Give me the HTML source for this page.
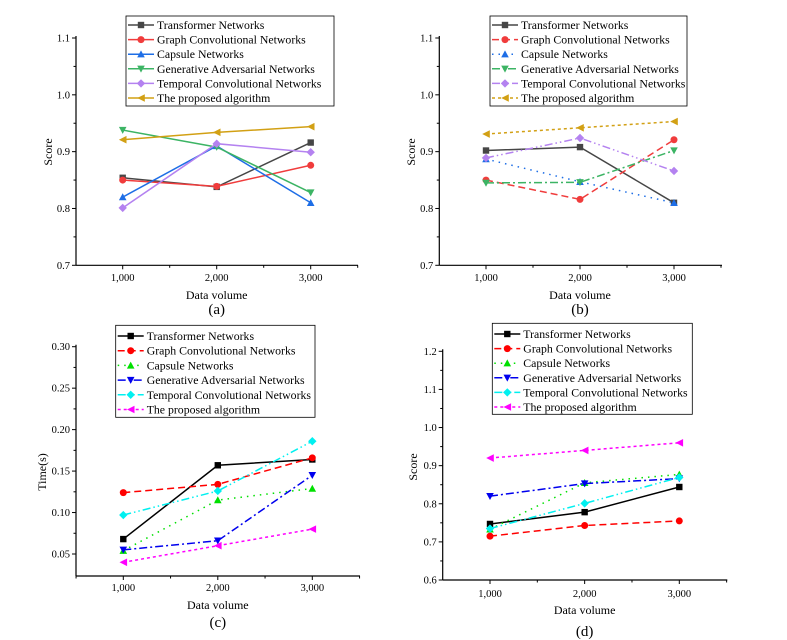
<!DOCTYPE html>
<html><head><meta charset="utf-8"><style>
body{margin:0;background:#fff;}
svg{display:block;font-family:"Liberation Serif",serif;}
</style></head><body>
<svg id="fig" width="787" height="640" viewBox="0 0 787 640"></svg>
<script>
const categories = [1000, 2000, 3000];
const xTickLabels = ["1,000", "2,000", "3,000"];
const seriesNames = ["Transformer Networks","Graph Convolutional Networks","Capsule Networks","Generative Adversarial Networks","Temporal Convolutional Networks","The proposed algorithm"];

const aTransformer = [0.854, 0.838, 0.916];
const aGCN = [0.850, 0.839, 0.876];
const aCapsule = [0.820, 0.910, 0.810];
const aGAN = [0.938, 0.908, 0.828];
const aTCN = [0.801, 0.914, 0.899];
const aProposed = [0.921, 0.934, 0.944];

const bTransformer = [0.902, 0.908, 0.810];
const bGCN = [0.850, 0.816, 0.921];
const bCapsule = [0.887, 0.847, 0.810];
const bGAN = [0.845, 0.846, 0.902];
const bTCN = [0.889, 0.924, 0.866];
const bProposed = [0.931, 0.942, 0.953];

const cTransformer = [0.068, 0.157, 0.164];
const cGCN = [0.124, 0.134, 0.166];
const cCapsule = [0.054, 0.115, 0.129];
const cGAN = [0.055, 0.066, 0.145];
const cTCN = [0.097, 0.126, 0.186];
const cProposed = [0.040, 0.060, 0.080];

const dTransformer = [0.747, 0.778, 0.844];
const dGCN = [0.715, 0.743, 0.755];
const dCapsule = [0.733, 0.855, 0.877];
const dGAN = [0.820, 0.853, 0.866];
const dTCN = [0.735, 0.801, 0.869];
const dProposed = [0.920, 0.940, 0.960];

const abTicks = [0.7, 0.8, 0.9, 1.0, 1.1];
const abTickLabels = ["0.7","0.8","0.9","1.0","1.1"];
const cTicks = [0.05, 0.10, 0.15, 0.20, 0.25, 0.30];
const cTickLabels = ["0.05","0.10","0.15","0.20","0.25","0.30"];
const dTicks = [0.6, 0.7, 0.8, 0.9, 1.0, 1.1, 1.2];
const dTickLabels = ["0.6","0.7","0.8","0.9","1.0","1.1","1.2"];

const NS = "http://www.w3.org/2000/svg";
const svg = document.getElementById("fig");
function mk(tag, attrs, parent, text){
  const e = document.createElementNS(NS, tag);
  for (const k in attrs) e.setAttribute(k, attrs[k]);
  if (text !== undefined) e.textContent = text;
  (parent || svg).appendChild(e);
  return e;
}
function marker(g, shape, x, y, color){
  const s = 3.2;
  let el;
  if (shape === "square") el = mk("rect", {x:x-s, y:y-s, width:2*s, height:2*s, fill:color}, g);
  else if (shape === "circle") el = mk("circle", {cx:x, cy:y, r:s+0.3, fill:color}, g);
  else if (shape === "up") el = mk("polygon", {points:`${x},${y-s-0.6} ${x-s-0.6},${y+s} ${x+s+0.6},${y+s}`, fill:color}, g);
  else if (shape === "down") el = mk("polygon", {points:`${x},${y+s+0.6} ${x-s-0.6},${y-s} ${x+s+0.6},${y-s}`, fill:color}, g);
  else if (shape === "diamond") el = mk("polygon", {points:`${x},${y-s-1} ${x+s+1},${y} ${x},${y+s+1} ${x-s-1},${y}`, fill:color}, g);
  else el = mk("polygon", {points:`${x-s-0.6},${y} ${x+s+0.6},${y-s-0.6} ${x+s+0.6},${y+s+0.6}`, fill:color}, g);
  
  
}
const shapes = ["square","circle","up","down","diamond","left"];

function panel(cfg){
  const g = mk("g", {}, svg);
  
  
  const yv = v => cfg.yBot - (v - cfg.yMinV) / (cfg.yMaxV - cfg.yMinV) * (cfg.yBot - cfg.yTop);
  const xv = c => cfg.x0 + (c - categories[0]) / (categories[2] - categories[0]) * (cfg.x2 - cfg.x0);
  const axisBottom = cfg.axisBottom;
  const ya = mk("line", {x1:cfg.ax, y1:cfg.yTop - 2, x2:cfg.ax, y2:axisBottom, stroke:"#000", "stroke-width":1.2}, g);
   
  const xa = mk("line", {x1:cfg.ax, y1:axisBottom, x2:cfg.axEnd, y2:axisBottom, stroke:"#000", "stroke-width":1.2}, g);
   
  cfg.yTicks.forEach((t, i) => {
    const y = yv(t);
    mk("line", {x1:cfg.ax - 4, y1:y, x2:cfg.ax, y2:y, stroke:"#000", "stroke-width":1}, g);
    const lb = mk("text", {x:cfg.ax - 6, y:y + 3.5, "font-size":10.5, "text-anchor":"end", fill:"#000"}, g, cfg.yTickLabels[i]);
     
    if (i < cfg.yTicks.length - 1) {
      const ym = yv((t + cfg.yTicks[i+1]) / 2);
      mk("line", {x1:cfg.ax - 2.5, y1:ym, x2:cfg.ax, y2:ym, stroke:"#000", "stroke-width":1}, g);
    }
  });
  categories.forEach((c, i) => {
    const x = xv(c);
    mk("line", {x1:x, y1:axisBottom, x2:x, y2:axisBottom + 4, stroke:"#000", "stroke-width":1}, g);
    const lb = mk("text", {x:x, y:cfg.tickY, "font-size":10.5, "text-anchor":"middle", fill:"#000"}, g, xTickLabels[i]);
     
  });
  [500, 1500, 2500, 3500].forEach(c => {
    const x = xv(c);
    if (x > cfg.ax && x <= cfg.axEnd) mk("line", {x1:x, y1:axisBottom, x2:x, y2:axisBottom + 2.5, stroke:"#000", "stroke-width":1}, g);
  });
  const xt = mk("text", {x:xv(2000), y:cfg.xTitleY, "font-size":12, "text-anchor":"middle"}, g, "Data volume");
   
  const cap = mk("text", {x:xv(2000), y:cfg.capY, "font-size":15, "text-anchor":"middle"}, g, cfg.caption);
   
  const yt = mk("text", {x:cfg.yTitleX, y:cfg.yTitleY, "font-size":12, "text-anchor":"middle", transform:`rotate(-90 ${cfg.yTitleX} ${cfg.yTitleY})`}, g, cfg.yTitle);
   
  cfg.series.forEach((vals, si) => {
    const pts = vals.map((v, i) => `${xv(categories[i])},${yv(v)}`).join(" ");
    const pl = mk("polyline", {points:pts, fill:"none", stroke:cfg.colors[si], "stroke-width":1.5, "stroke-dasharray":cfg.dashes[si]}, g);
    
    
    vals.forEach((v, i) => marker(g, shapes[si], xv(categories[i]), yv(v), cfg.colors[si]));
  });
  const lg = mk("g", {}, g);
  
  
  mk("rect", {x:cfg.lx, y:cfg.ly, width:cfg.lw, height:cfg.lh, fill:"#fff", stroke:"#000", "stroke-width":0.8}, lg);
  seriesNames.forEach((n, si) => {
    const ry = cfg.ly + cfg.lRow0 + si * cfg.lStep;
    mk("line", {x1:cfg.lx + 2, y1:ry, x2:cfg.lx + 28, y2:ry, stroke:cfg.colors[si], "stroke-width":1.5, "stroke-dasharray":cfg.dashes[si]}, lg);
    marker(lg, shapes[si], cfg.lx + 15, ry, cfg.colors[si]);
    const t = mk("text", {x:cfg.lx + 31, y:ry + 4, "font-size":11.8}, lg, n);
    
    
  });
}

const solidColors = ["#464646","#f03c3c","#1e6ee6","#3cb464","#b482f0","#d2a014"];
const abDashes = ["", "7 4", "1.5 5", "8 3 2 3", "8 3 1.5 3 1.5 3", "3 3"];
const cdColors = ["#000000","#ff0000","#00e000","#0000ee","#00f0f0","#ff00ff"];

panel({id:"a", caption:"(a)", yTitle:"Score", series:[aTransformer,aGCN,aCapsule,aGAN,aTCN,aProposed],
  colors:solidColors, dashes:["","","","","",""], ax:76, axEnd:358, x0:122.7, x2:310.7,
  yTicks:abTicks, yTickLabels:abTickLabels, yMinV:0.7, yMaxV:1.1, yTop:38, yBot:265.3, axisBottom:265.3,
  tickY:281, xTitleY:299, capY:314, yTitleX:52, yTitleY:152,
  lx:126, ly:16, lw:208, lh:90, lRow0:9, lStep:14.6});
panel({id:"b", caption:"(b)", yTitle:"Score", series:[bTransformer,bGCN,bCapsule,bGAN,bTCN,bProposed],
  colors:solidColors, dashes:abDashes, ax:439.3, axEnd:722, x0:486, x2:674,
  yTicks:abTicks, yTickLabels:abTickLabels, yMinV:0.7, yMaxV:1.1, yTop:38, yBot:265.3, axisBottom:265.3,
  tickY:281, xTitleY:299, capY:314, yTitleX:415, yTitleY:152,
  lx:490, ly:16, lw:197, lh:90, lRow0:9, lStep:14.6});
panel({id:"c", caption:"(c)", yTitle:"Time(s)", series:[cTransformer,cGCN,cCapsule,cGAN,cTCN,cProposed],
  colors:cdColors, dashes:abDashes, ax:76, axEnd:360, x0:123.3, x2:312.3,
  yTicks:cTicks, yTickLabels:cTickLabels, yMinV:0.05, yMaxV:0.30, yTop:346.7, yBot:554, axisBottom:576,
  tickY:591, xTitleY:609, capY:627, yTitleX:46, yTitleY:472,
  lx:115.7, ly:325.3, lw:199.3, lh:92, lRow0:10.7, lStep:14.7});
panel({id:"d", caption:"(d)", yTitle:"Score", series:[dTransformer,dGCN,dCapsule,dGAN,dTCN,dProposed],
  colors:cdColors, dashes:abDashes, ax:442.7, axEnd:727.3, x0:490, x2:679.3,
  yTicks:dTicks, yTickLabels:dTickLabels, yMinV:0.6, yMaxV:1.2, yTop:351.3, yBot:580, axisBottom:580,
  tickY:597, xTitleY:614, capY:636, yTitleX:417, yTitleY:467,
  lx:492.3, ly:323.3, lw:200, lh:91, lRow0:10.7, lStep:14.6});
</script>
</body></html>
